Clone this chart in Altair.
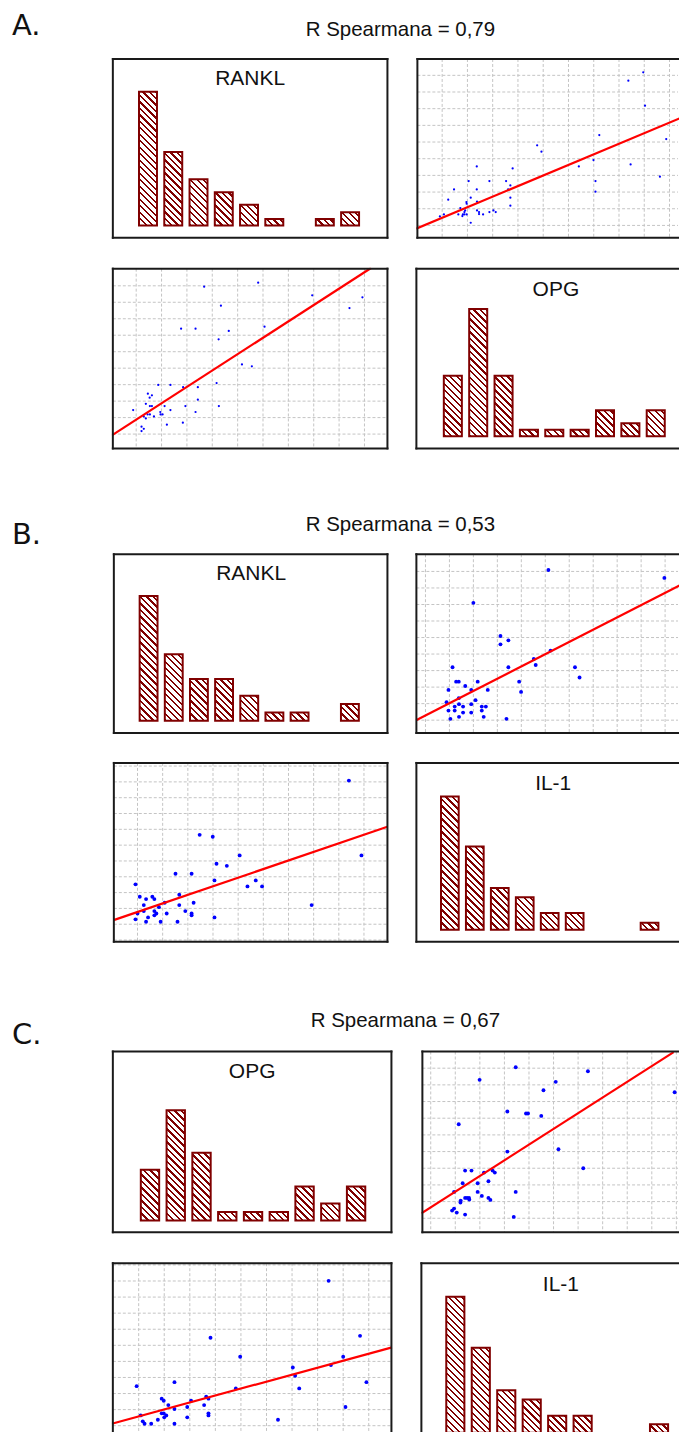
import math
import altair as alt
import pandas as pd

# ------------------------------------------------------------------ data
section_letters = ["A.", "B.", "C."]
spearman_labels = ["R Spearmana = 0,79", "R Spearmana = 0,53", "R Spearmana = 0,67"]

bins = list(range(9))
a_rankl_counts = [20.6, 11.3, 7.1, 5.1, 3.2, 1, 0, 1, 2.05]
a_opg_counts = [9.3, 19.6, 9.3, 1, 1, 1, 4, 2, 4]
b_rankl_counts = [15, 8, 5, 5, 3, 1, 1, 0, 2]
b_il1_counts = [16, 10, 5, 3.9, 2, 2, 0, 0, 0.85]
c_opg_counts = [6, 13, 8, 1, 1, 1, 4, 2, 4]
c_il1_counts = [16, 10, 5, 3.9, 2, 2, 0, 0, 1]

a_tr_x = [-0.09, 0.07, 0.24, 0.47, 0.64, 0.72, 0.80, 0.82, 0.88, 0.88, 0.91, 0.96, 0.97, 0.97, 1.05,
          1.13, 1.13, 1.37, 1.37, 1.38, 1.38, 1.46, 1.46, 1.62, 1.87, 1.87, 2.03, 2.12, 2.53, 2.61,
          2.70, 2.70, 2.70, 2.79, 3.76, 3.93, 5.41, 5.99, 6.07, 6.07, 6.22, 7.37, 7.46, 7.96, 8.03,
          8.62, 8.87]
a_tr_y = [0.54, 0.66, 1.54, 2.16, 0.66, 1.04, 0.56, 0.66, 0.80, 0.66, 0.90, 1.40, 1.30, 0.66, 2.66,
          1.66, 0.16, 3.54, 2.16, 1.42, 0.90, 0.80, 0.68, 0.66, 2.66, 0.80, 0.90, 0.80, 2.66, 2.16,
          2.40, 1.66, 1.18, 3.42, 4.80, 4.42, 3.54, 3.92, 2.66, 2.02, 5.42, 8.68, 3.66, 9.18, 7.18,
          2.92, 5.18]
a_tr_fit_x = [-1.03, 9.68]
a_tr_fit_y = [-0.20, 6.60]

a_bl_x = [-0.12, 0.21, 0.21, 0.30, 0.30, 0.38, 0.38, 0.45, 0.46, 0.53, 0.54, 0.54, 0.62, 0.62, 0.70,
          0.87, 0.95, 0.96, 1.04, 1.12, 1.21, 1.35, 1.35, 1.77, 1.84, 1.85, 1.94, 2.34, 2.34, 2.43,
          2.43, 2.68, 3.17, 3.25, 3.26, 3.34, 3.65, 4.17, 4.56, 4.81, 5.06, 6.94, 8.41, 8.92]
a_bl_y = [1.46, 0.45, 0.18, 0.32, 1.07, 1.84, 0.95, 1.19, 2.45, 2.21, 1.70, 1.19, 2.35, 1.70, 1.07,
          2.98, 1.34, 1.19, 1.19, 1.70, 0.57, 2.98, 1.46, 6.40, 0.69, 2.85, 1.70, 6.40, 1.34, 2.85,
          2.09, 8.95, 3.10, 5.75, 1.70, 7.79, 6.26, 4.23, 4.11, 9.19, 6.52, 8.42, 7.65, 8.30]
a_bl_fit_x = [-0.96, 9.26]
a_bl_fit_y = [-0.08, 10.08]

b_tr_x = [0.88, 0.96, 0.96, 1.04, 1.13, 1.22, 1.22, 1.28, 1.39, 1.39, 1.40, 1.40, 1.57, 1.57, 1.66,
          1.91, 1.91, 1.91, 2.00, 2.09, 2.18, 2.35, 2.35, 2.43, 2.52, 2.60, 3.13, 3.13, 3.38, 3.46,
          3.46, 3.91, 3.99, 4.52, 4.60, 5.13, 5.22, 6.24, 6.43, 9.97]
b_tr_y = [1.09, 1.83, 0.58, 0.08, 3.20, 0.82, 0.58, 2.33, 2.33, 1.33, 0.97, 0.20, 0.82, 0.46, 2.07,
          1.83, 0.97, 0.46, 7.10, 1.21, 2.33, 0.82, 0.58, 0.20, 0.82, 1.83, 5.09, 4.59, 0.08, 4.83,
          3.20, 2.33, 1.71, 3.70, 3.34, 9.09, 4.21, 3.20, 2.58, 8.61]
b_tr_fit_x = [-0.39, 10.90]
b_tr_fit_y = [0.00, 8.37]

b_bl_x = [-0.08, -0.08, 0.00, 0.09, 0.25, 0.25, 0.34, 0.34, 0.42, 0.59, 0.67, 0.67, 0.67, 0.75, 0.85,
          0.92, 1.08, 1.16, 1.51, 1.59, 1.66, 1.66, 1.90, 2.15, 2.15, 2.15, 2.23, 2.47, 2.99, 3.06,
          3.06, 3.14, 3.55, 4.06, 4.37, 4.70, 4.95, 6.92, 8.40, 8.90]
b_bl_y = [3.52, 1.31, 1.68, 2.74, 2.21, 1.83, 2.59, 1.16, 1.43, 2.74, 2.59, 1.83, 1.56, 1.68, 2.08,
          1.16, 2.36, 1.68, 4.19, 1.16, 2.86, 2.21, 1.83, 4.19, 1.68, 1.56, 2.36, 6.65, 6.53, 3.77,
          1.43, 4.82, 4.69, 5.35, 3.39, 3.77, 3.39, 2.21, 10.08, 5.35]
b_bl_fit_x = [-0.95, 9.93]
b_bl_fit_y = [1.26, 7.16]

c_tr_x = [0.87, 0.95, 0.95, 1.06, 1.21, 1.22, 1.30, 1.40, 1.40, 1.40, 1.48, 1.56, 1.57, 1.66, 1.14,
          1.91, 1.91, 1.99, 2.08, 2.17, 2.35, 2.35, 2.43, 2.52, 2.61, 3.12, 3.12, 3.38, 3.46, 3.46,
          3.88, 3.96, 4.50, 4.59, 5.09, 5.20, 6.21, 6.40, 9.93]
c_tr_y = [0.46, 0.58, 1.58, 0.34, 0.94, 1.06, 2.10, 0.22, 1.22, 2.86, 1.22, 1.22, 1.12, 2.86, 5.64,
          2.10, 1.58, 8.30, 1.34, 2.74, 1.22, 2.22, 1.10, 2.86, 2.74, 6.40, 4.00, 0.08, 9.06, 1.58,
          6.28, 6.28, 6.14, 7.68, 8.18, 4.14, 3.00, 8.82, 7.56]
c_tr_fit_x = [-0.38, 9.89]
c_tr_fit_y = [0.30, 9.96]

c_bl_x = [-0.08, 0.08, 0.16, 0.23, 0.49, 0.75, 0.90, 0.98, 0.90, 0.98, 1.00, 1.08, 1.16, 1.40, 1.40,
          1.40, 1.90, 1.90, 2.05, 2.56, 2.64, 2.73, 2.73, 2.73, 2.81, 3.80, 3.97, 5.45, 6.03, 6.12,
          6.28, 7.43, 7.52, 8.00, 8.09, 8.66, 8.91]
c_bl_y = [2.46, 0.64, 0.27, 0.12, 0.12, 0.37, 1.68, 1.55, 0.77, 0.77, 0.52, 0.64, 1.28, 2.71, 1.04,
          0.12, 1.16, 0.52, 1.55, 1.28, 1.80, 1.68, 0.77, 0.64, 5.47, 2.32, 4.29, 0.37, 3.62, 3.11,
          2.32, 9.01, 3.77, 4.29, 1.16, 5.59, 2.71]
c_bl_fit_x = [-1.05, 9.91]
c_bl_fit_y = [0.12, 4.87]

# ------------------------------------------------------------------ style
DARK = "#800000"
FRAME = "#1a1a1a"
GRID = "#c4c4c4"
ALL4 = ("top", "bottom", "left", "right")
OPEN = ("top", "left", "bottom")
NO_PAD = {"left": 0, "top": 0, "right": 0, "bottom": 0}
TOTAL_W = 672


def one():
    return pd.DataFrame({"k": [0]})


def frame(w, h, edges):
    """Panel border drawn inside the view; vertical rules stop 1px short of the
    view edges so their stroke bounds never leave the cell."""
    out = []
    for e in edges:
        if e in ("top", "bottom"):
            yv = 1 if e == "top" else h - 1
            enc = dict(x=alt.value(1), x2=alt.value(w - 1), y=alt.value(yv))
        else:
            xv = 1 if e == "left" else w - 1
            enc = dict(x=alt.value(xv), y=alt.value(1), y2=alt.value(h - 1))
        out.append(alt.Chart(one()).mark_rule(
            color=FRAME, strokeWidth=2, strokeCap="square").encode(**enc))
    return out


def hatch_fill(wpx, hpx, period=4.6, frac=0.36):
    dx = wpx * (wpx + hpx) / (wpx ** 2 + hpx ** 2)
    y2 = 1 - dx * hpx / wpx
    L = (wpx + hpx) / math.sqrt(2)
    stops = []
    k = 0
    while k * period < L:
        s = round(k * period / L, 5)
        e = round(min(1.0, (k * period + frac * period) / L), 5)
        stops += [alt.GradientStop(offset=s, color="#ffffff"),
                  alt.GradientStop(offset=s, color=DARK),
                  alt.GradientStop(offset=e, color=DARK),
                  alt.GradientStop(offset=e, color="#ffffff")]
        k += 1
    return alt.LinearGradient(gradient="linear", stops=stops, x1=0, y1=1, x2=dx, y2=y2)


def hist_panel(counts, title, w, h, first, sp, u, tbase, edges, tx, tby):
    """first: px from left edge to first bin centre; sp: px per bin;
    u: px per count; tbase: px from top edge down to the bar baseline."""
    xs = alt.Scale(domain=[-first / sp, (w - first) / sp], nice=False, zero=False)
    ys = alt.Scale(domain=[(tbase - h) / u, tbase / u], nice=False, zero=False, clamp=True)
    half = (0.79 * sp - 2) / 2 / sp
    layers = []
    for i, c in zip(bins, counts):
        if c <= 0:
            continue
        df = pd.DataFrame({"x0": [i - half], "x1": [i + half], "y0": [0.0], "y1": [c]})
        fill = hatch_fill(2 * half * sp, c * u)
        layers.append(
            alt.Chart(df).mark_rect(fill=fill, stroke=DARK, strokeWidth=2, clip=True).encode(
                x=alt.X("x0:Q", scale=xs, axis=None), x2="x1:Q",
                y=alt.Y("y0:Q", scale=ys, axis=None), y2="y1:Q"))
    layers.append(
        alt.Chart(pd.DataFrame({"t": [title]})).mark_text(
            font="Liberation Sans", fontSize=21, align="center", baseline="alphabetic",
            color="#111111").encode(x=alt.value(tx), y=alt.value(tby), text="t:N"))
    layers += frame(w, h, edges)
    return alt.layer(*layers).properties(width=w, height=h)


def scatter_panel(xv, yv, fx, fy, w, h, xleft, sx, ytop, sy, xgrid, ygrid, size, edges):
    """xleft / ytop: data value at the left / top edge; sx, sy: px per grid unit."""
    xs = alt.Scale(domain=[xleft, xleft + w / sx], nice=False, zero=False)
    ys = alt.Scale(domain=[ytop - h / sy, ytop], nice=False, zero=False)
    gx = alt.Chart(pd.DataFrame({"g": xgrid})).mark_rule(
        color=GRID, strokeWidth=1, strokeDash=[3, 2], strokeCap="butt").encode(
        x=alt.X("g:Q", scale=xs, axis=None), y=alt.value(1), y2=alt.value(h - 1))
    gy = alt.Chart(pd.DataFrame({"g": ygrid})).mark_rule(
        color=GRID, strokeWidth=1, strokeDash=[3, 2], strokeCap="butt").encode(
        y=alt.Y("g:Q", scale=ys, axis=None), x=alt.value(1), x2=alt.value(w - 1))
    pts = alt.Chart(pd.DataFrame({"x": xv, "y": yv})).mark_circle(
        color="#0000ff", opacity=1, size=size, clip=True).encode(
        x=alt.X("x:Q", scale=xs, axis=None), y=alt.Y("y:Q", scale=ys, axis=None))
    line = alt.Chart(pd.DataFrame({"x": fx, "y": fy})).mark_line(
        color="#ff0000", strokeWidth=2.2, clip=True).encode(
        x=alt.X("x:Q", scale=xs, axis=None), y=alt.Y("y:Q", scale=ys, axis=None))
    return alt.layer(gx, gy, pts, line, *frame(w, h, edges)).properties(width=w, height=h)


def blank(w, h):
    return alt.Chart(one()).mark_point(opacity=0, size=1).encode(
        x=alt.value(w / 2), y=alt.value(h / 2)).properties(width=w, height=h)


def header(idx, h, lby, sx, sby):
    letter = alt.Chart(pd.DataFrame({"t": [section_letters[idx]]})).mark_text(
        font="DejaVu Sans", fontSize=29, align="left", baseline="alphabetic",
        color="#111111").encode(x=alt.value(4), y=alt.value(lby), text="t:N")
    rs = alt.Chart(pd.DataFrame({"t": [spearman_labels[idx]]})).mark_text(
        font="Liberation Sans", fontSize=20.5, align="center", baseline="alphabetic",
        color="#111111").encode(x=alt.value(sx), y=alt.value(sby), text="t:N")
    return alt.layer(letter, rs).properties(width=TOTAL_W, height=h)


def row(lw, left, gw, right, h):
    return alt.hconcat(blank(lw, h), left, blank(gw, h), right, spacing=0, bounds="flush")


# ------------------------------------------------------------------ panels
R10, R11, R12 = list(range(10)), list(range(11)), list(range(12))

a_tl = hist_panel(a_rankl_counts, "RANKL", 277, 181, 36.2, 25.3, 6.5, 167.7, ALL4, 138.5, 26.7)
a_tr = scatter_panel(a_tr_x, a_tr_y, a_tr_fit_x, a_tr_fit_y, 263, 181,
                     -1.02, 25.3, 10.04, 16.7, R10, R10, 5, OPEN)
a_bl = scatter_panel(a_bl_x, a_bl_y, a_bl_fit_x, a_bl_fit_y, 277, 182,
                     -0.96, 25.4, 10.10, 16.5, R10, R10, 5, ALL4)
a_br = hist_panel(a_opg_counts, "OPG", 264, 182, 37.5, 25.4, 6.5, 168.7, OPEN, 140.7, 28)

b_tl = hist_panel(b_rankl_counts, "RANKL", 276, 181, 35.8, 25.2, 8.33, 167.7, ALL4, 138.5, 26.7)
b_tr = scatter_panel(b_tr_x, b_tr_y, b_tr_fit_x, b_tr_fit_y, 264, 181,
                     -0.42, 24.0, 10.10, 16.55, R11, R10, 15, OPEN)
b_bl = scatter_panel(b_bl_x, b_bl_y, b_bl_fit_x, b_bl_fit_y, 276, 181,
                     -0.98, 25.2, 11.26, 15.84, R10, R12, 15, ALL4)
b_br = hist_panel(b_il1_counts, "IL-1", 264, 181, 34.5, 25.0, 8.33, 168.0, OPEN, 138, 28.3)

c_tl = hist_panel(c_opg_counts, "OPG", 281, 183, 38.2, 25.8, 8.5, 170.3, ALL4, 140.5, 27.6)
c_tr = scatter_panel(c_tr_x, c_tr_y, c_tr_fit_x, c_tr_fit_y, 258, 183,
                     -0.38, 24.6, 10.06, 16.7, R11, R10, 15, OPEN)
c_bl = scatter_panel(c_bl_x, c_bl_y, c_bl_fit_x, c_bl_fit_y, 281, 180,
                     -1.05, 25.6, 10.17, 16.1, R10, R11, 15, ("top", "left", "right"))
c_br = hist_panel(c_il1_counts, "IL-1", 259, 180, 35.0, 25.5, 8.5, 170.7, ("top", "left"),
                  140.7, 28.4)

# every row below is exactly TOTAL_W wide: [left margin, left panel, gap, right panel]
rows = [
    header(0, 48, 26, 393, 27),
    row(104, a_tl, 28, a_tr, 181),
    blank(TOTAL_W, 27),
    row(104, a_bl, 27, a_br, 182),
    header(1, 102, 94, 393, 81),
    row(105, b_tl, 27, b_tr, 181),
    blank(TOTAL_W, 26),
    row(105, b_bl, 27, b_br, 181),
    header(2, 106, 100, 398, 83),
    row(104, c_tl, 29, c_tr, 183),
    blank(TOTAL_W, 27),
    row(104, c_bl, 28, c_br, 180),
]

chart = alt.vconcat(*rows, spacing=0, padding=NO_PAD).configure_view(stroke=None)

chart.save("out.html", embed_options={"renderer": "svg", "actions": False})
